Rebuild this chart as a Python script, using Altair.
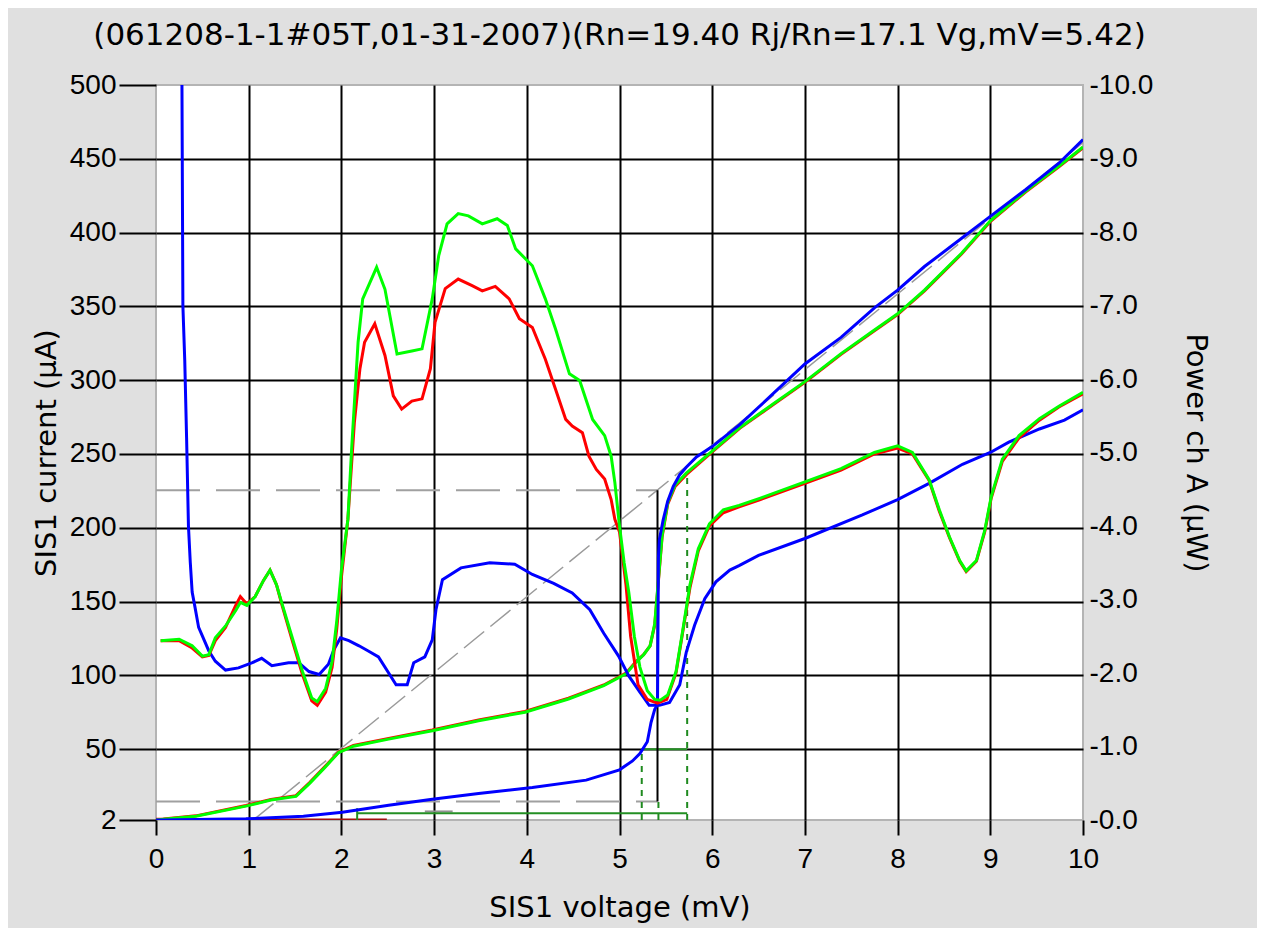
import altair as alt
import pandas as pd

# ---------------- data ----------------
title_text = "(061208-1-1#05T,01-31-2007)(Rn=19.40 Rj/Rn=17.1 Vg,mV=5.42)"
x_ticks = [0, 1, 2, 3, 4, 5, 6, 7, 8, 9, 10]
current_ticks = [2, 50, 100, 150, 200, 250, 300, 350, 400, 450, 500]
power_ticks = [0, -1, -2, -3, -4, -5, -6, -7, -8, -9, -10]

# unpumped IV (µA)
blue_iv_v = [0.0, 0.08, 0.43, 0.97, 1.59, 2.01, 2.51, 2.98, 3.48, 4.06,
             4.64, 5.00, 5.14, 5.22, 5.30, 5.34, 5.38, 5.41, 5.42, 5.43,
             5.47, 5.52, 5.58, 5.65, 5.72, 5.83, 6.00, 6.30, 6.66, 7.00,
             7.39, 7.75, 8.00, 8.29, 8.73, 9.00, 9.38, 9.74, 10.0]
blue_iv_i = [2, 2, 2.3, 2.8, 4.5, 7.3, 12, 16, 20, 24,
             29, 36, 42, 47, 55, 68, 77, 80, 180, 192,
             205, 218, 228, 236, 241, 248, 255, 270, 291, 311,
             329, 349, 361, 377, 398, 411, 429, 447, 463]

# pumped IV, hot (red) and cold (green) (µA)
red_iv_v = [0.0, 0.08, 0.43, 0.97, 1.24, 1.51, 1.66, 1.82, 1.97, 2.13,
            2.51, 2.98, 3.48, 3.98, 4.45, 4.83, 5.07, 5.18, 5.26, 5.33,
            5.38, 5.42, 5.46, 5.52, 5.60, 5.72, 6.00, 6.30, 6.66, 7.00,
            7.39, 7.75, 8.00, 8.29, 8.69, 9.00, 9.38, 9.74, 10.0]
red_iv_i = [2.5, 2.6, 4.8, 11.8, 15.9, 18.5, 27.5, 38, 48, 52.5,
            57.3, 63, 69.8, 75.5, 84.5, 93.5, 101.5, 109.5, 114, 120,
            134, 164, 194, 216, 228, 236, 251.5, 267.5, 283.5, 298.5,
            317.5, 333.5, 344.5, 360.5, 385.5, 407.5, 427.5, 444.5, 457.5]
green_iv_v = [0.0, 0.08, 0.43, 0.97, 1.24, 1.51, 1.66, 1.82, 1.97, 2.13,
              2.51, 2.98, 3.48, 3.98, 4.45, 4.83, 5.07, 5.18, 5.26, 5.33,
              5.38, 5.42, 5.46, 5.52, 5.60, 5.72, 6.00, 6.30, 6.66, 7.00,
              7.39, 7.75, 8.00, 8.29, 8.69, 9.00, 9.38, 9.74, 10.0]
green_iv_i = [2, 2.5, 4.5, 11.4, 15.5, 18, 27, 37.5, 47.7, 52,
              56.8, 62.5, 69.3, 75, 84, 93, 101, 109, 114, 120,
              135, 165, 195, 217, 229, 237, 252, 268, 284, 299,
              318, 334, 345, 361, 386, 408, 428, 445, 458]

# IF power curves (µW)
blue_pw_v = [0.28, 0.29, 0.31, 0.33, 0.35, 0.37, 0.39, 0.42, 0.46, 0.57,
             0.64, 0.75, 0.89, 1.04, 1.14, 1.25, 1.43, 1.54, 1.65, 1.76,
             1.86, 1.92, 1.99, 2.08, 2.19, 2.29, 2.40, 2.51, 2.59, 2.71,
             2.78, 2.90, 2.98, 3.02, 3.09, 3.29, 3.60, 3.87, 4.06, 4.29,
             4.49, 4.68, 4.83, 4.99, 5.10, 5.22, 5.32, 5.43, 5.54, 5.65,
             5.72, 5.81, 5.92, 6.04, 6.19, 6.29, 6.50, 7.00, 7.62, 8.00,
             8.34, 8.70, 9.00, 9.20, 9.53, 9.80, 10.0]
blue_pw_p = [-10.0, -7.0, -6.26, -5.2, -4.0, -3.5, -3.1, -2.9, -2.62, -2.3,
             -2.16, -2.04, -2.07, -2.14, -2.2, -2.1, -2.14, -2.14, -2.02, -1.98,
             -2.12, -2.32, -2.48, -2.44, -2.37, -2.3, -2.22, -2.0, -1.84, -1.84,
             -2.14, -2.22, -2.45, -2.86, -3.27, -3.43, -3.5, -3.48, -3.34, -3.22,
             -3.09, -2.86, -2.54, -2.23, -1.96, -1.74, -1.56, -1.56, -1.6, -1.84,
             -2.28, -2.65, -3.01, -3.24, -3.4, -3.46, -3.6, -3.83, -4.15, -4.36,
             -4.58, -4.84, -5.0, -5.14, -5.32, -5.44, -5.58]

red_pw_v = [0.05, 0.25, 0.39, 0.50, 0.57, 0.64, 0.75, 0.86, 0.91, 0.98,
            1.07, 1.16, 1.23, 1.30, 1.36, 1.47, 1.58, 1.68, 1.74, 1.83,
            1.90, 1.95, 2.00, 2.07, 2.14, 2.20, 2.25, 2.36, 2.47, 2.56,
            2.65, 2.76, 2.87, 2.96, 3.01, 3.12, 3.26, 3.41, 3.52, 3.66,
            3.81, 3.92, 4.06, 4.20, 4.31, 4.42, 4.49, 4.60, 4.67, 4.75,
            4.84, 4.91, 4.95, 5.00, 5.07, 5.12, 5.20, 5.30, 5.41, 5.51,
            5.61, 5.68, 5.76, 5.85, 5.97, 6.12, 6.29, 6.52, 7.00, 7.39,
            7.75, 8.00, 8.16, 8.34, 8.45, 8.56, 8.67, 8.74, 8.85, 8.94,
            9.01, 9.13, 9.31, 9.53, 9.74, 10.0]
red_pw_p = [-2.44, -2.44, -2.34, -2.22, -2.24, -2.44, -2.62, -2.92, -3.04, -2.94,
            -3.04, -3.26, -3.4, -3.2, -2.92, -2.44, -1.98, -1.62, -1.56, -1.74,
            -2.08, -2.6, -3.3, -4.09, -5.41, -6.14, -6.5, -6.75, -6.32, -5.77,
            -5.59, -5.7, -5.73, -6.14, -6.77, -7.23, -7.36, -7.27, -7.2, -7.26,
            -7.09, -6.82, -6.7, -6.27, -5.86, -5.45, -5.36, -5.27, -4.95, -4.77,
            -4.64, -4.36, -4.09, -3.92, -3.2, -2.5, -1.84, -1.64, -1.59, -1.64,
            -2.0, -2.54, -3.16, -3.66, -4.0, -4.18, -4.26, -4.36, -4.58, -4.76,
            -4.98, -5.06, -4.98, -4.62, -4.2, -3.84, -3.52, -3.38, -3.52, -3.92,
            -4.38, -4.88, -5.2, -5.44, -5.62, -5.8]

green_pw_v = [0.05, 0.25, 0.39, 0.50, 0.57, 0.64, 0.75, 0.86, 0.91, 0.98,
              1.07, 1.16, 1.23, 1.30, 1.36, 1.47, 1.58, 1.68, 1.74, 1.83,
              1.90, 1.95, 2.00, 2.07, 2.11, 2.18, 2.23, 2.38, 2.47, 2.60,
              2.76, 2.87, 2.98, 3.05, 3.14, 3.26, 3.37, 3.52, 3.68, 3.79,
              3.88, 4.06, 4.20, 4.31, 4.46, 4.57, 4.71, 4.84, 4.91, 4.95,
              5.00, 5.05, 5.10, 5.16, 5.22, 5.30, 5.38, 5.44, 5.52, 5.61,
              5.68, 5.76, 5.85, 5.97, 6.12, 6.29, 6.52, 7.00, 7.39, 7.75,
              8.00, 8.16, 8.34, 8.45, 8.56, 8.67, 8.74, 8.85, 8.94, 9.01,
              9.13, 9.31, 9.53, 9.74, 10.0]
green_pw_p = [-2.44, -2.46, -2.37, -2.23, -2.25, -2.48, -2.64, -2.85, -2.96, -2.92,
              -3.04, -3.26, -3.4, -3.2, -2.94, -2.48, -2.02, -1.66, -1.61, -1.79,
              -2.16, -2.71, -3.4, -4.09, -5.04, -6.5, -7.09, -7.52, -7.22, -6.34,
              -6.38, -6.41, -7.09, -7.68, -8.11, -8.25, -8.22, -8.11, -8.18, -8.09,
              -7.77, -7.54, -7.09, -6.68, -6.07, -5.98, -5.45, -5.23, -4.95, -4.59,
              -4.0, -3.5, -3.1, -2.5, -2.08, -1.76, -1.64, -1.63, -1.7, -2.02,
              -2.56, -3.2, -3.69, -4.03, -4.22, -4.28, -4.38, -4.6, -4.78, -5.0,
              -5.09, -5.0, -4.63, -4.22, -3.85, -3.53, -3.39, -3.53, -3.94, -4.4,
              -4.91, -5.23, -5.46, -5.63, -5.82]

# guide lines (current axis units)
gray_dash_v = [0.0, 5.41, 0.0, 5.41]
gray_dash_i = [225.5, 225.5, 14.5, 14.5]
gray_dash_seg = [0, 0, 1, 1]
rn_line_v = [1.05, 10.0]
rn_line_i = [2, 461]
gap_line_v = [5.41, 5.41]
gap_line_i = [14.5, 225.5]
dkgreen_v = [2.17, 5.73, 5.24, 5.73, 2.17, 2.17]
dkgreen_i = [6.5, 6.5, 50, 50, 2, 10]
dkgreen_seg = [0, 0, 1, 1, 2, 2]
dkgreen_dot_v = [5.24, 5.24, 5.42, 5.42, 5.73, 5.73]
dkgreen_dot_i = [2, 50, 2, 14.5, 2, 237]
dkgreen_dot_seg = [0, 0, 1, 1, 2, 2]
maroon_v = [0.1, 2.49]
maroon_i = [2.4, 2.4]
gray_short_v = [2.9, 3.2]
gray_short_i = [7.8, 7.8]

# ---------------- styling ----------------
FONT_T = "DejaVu Sans"
FONT_L = "Liberation Sans"

x_enc = alt.X(
    "V:Q",
    scale=alt.Scale(domain=[0, 10], nice=False, zero=False),
    axis=alt.Axis(
        values=x_ticks, format="d", title="SIS1 voltage (mV)",
        grid=True, gridColor="black", gridWidth=2,
        gridOpacity={"condition": {"test": "datum.value <= 0 || datum.value >= 10", "value": 0}, "value": 1},
        domain=False, ticks=True, tickColor="black", tickWidth=2, tickSize=15,
        labelFont=FONT_L, labelFontSize=28, labelColor="black", labelPadding=10, labelFlush=False,
        titleFont=FONT_T, titleFontSize=29, titleFontWeight="normal", titleColor="black", titlePadding=20,
    ),
)

y_cur = alt.Y(
    "I:Q",
    scale=alt.Scale(domain=[2, 500], nice=False, zero=False),
    axis=alt.Axis(
        values=current_ticks, title="SIS1 current (µA)",
        grid=True, gridColor="black", gridWidth=2,
        gridOpacity={"condition": {"test": "datum.value <= 2 || datum.value >= 500", "value": 0}, "value": 1},
        domain=False, ticks=True, tickColor="black", tickWidth=2, tickSize=37,
        labelFont=FONT_L, labelFontSize=28, labelColor="black", labelPadding=3,
        titleFont=FONT_T, titleFontSize=29, titleFontWeight="normal", titleColor="black", titlePadding=8,
    ),
)

y_pow = alt.Y(
    "P:Q",
    scale=alt.Scale(domain=[-10, 0], reverse=True, nice=False, zero=False),
    axis=alt.Axis(
        orient="right", values=power_ticks,
        labelExpr="'-' + format(abs(datum.value), '.1f')",
        title="Power ch A (µW)", grid=False, domain=False, ticks=False, tickSize=0,
        labelFont=FONT_L, labelFontSize=28, labelColor="black", labelPadding=6,
        titleFont=FONT_T, titleFontSize=29, titleFontWeight="normal", titleColor="black", titlePadding=28,
    ),
)


def curve(v, y, field, yenc, color, width=3, dash=None):
    df = pd.DataFrame({"V": v, field: y, "k": list(range(len(v)))})
    kw = dict(color=color, strokeWidth=width, clip=True)
    if dash:
        kw["strokeDash"] = dash
    return alt.Chart(df).mark_line(**kw).encode(x=x_enc, y=yenc, order="k:Q")


def segments(v, y, seg, field, yenc, color, width=2, dash=None):
    df = pd.DataFrame({"V": v, field: y, "s": seg, "k": list(range(len(v)))})
    kw = dict(color=color, strokeWidth=width, clip=True)
    if dash:
        kw["strokeDash"] = dash
    return alt.Chart(df).mark_line(**kw).encode(x=x_enc, y=yenc, detail="s:N", order="k:Q")


left_group = alt.layer(
    segments(gray_dash_v, gray_dash_i, gray_dash_seg, "I", y_cur, "#a0a0a0", 2, [44, 16]),
    curve(rn_line_v, rn_line_i, "I", y_cur, "#9a9a9a", 1.5, [26, 8]),
    curve(gray_short_v, gray_short_i, "I", y_cur, "#909090", 2),
    curve(maroon_v, maroon_i, "I", y_cur, "#a01010", 2),
    segments(dkgreen_v, dkgreen_i, dkgreen_seg, "I", y_cur, "#238f23", 2),
    segments(dkgreen_dot_v, dkgreen_dot_i, dkgreen_dot_seg, "I", y_cur, "#1f8a1f", 2, [6, 6]),
    curve(gap_line_v, gap_line_i, "I", y_cur, "black", 2),
    curve(red_iv_v, red_iv_i, "I", y_cur, "#ff0000", 3),
    curve(green_iv_v, green_iv_i, "I", y_cur, "#00ff00", 3),
    curve(blue_iv_v, blue_iv_i, "I", y_cur, "#0000ff", 3),
)

right_group = alt.layer(
    curve(blue_pw_v, blue_pw_p, "P", y_pow, "#0000ff", 3),
    curve(red_pw_v, red_pw_p, "P", y_pow, "#ff0000", 3),
    curve(green_pw_v, green_pw_p, "P", y_pow, "#00ff00", 3),
)

chart = (
    alt.layer(left_group, right_group)
    .resolve_scale(y="independent")
    .properties(
        width=927,
        height=735,
        autosize=alt.AutoSizeParams(type="none"),
        padding={"left": 148, "top": 77, "right": 174, "bottom": 108},
        background="#e0e0e0",
        title=alt.TitleParams(
            text=title_text, font=FONT_T, fontSize=31, fontWeight="normal",
            color="black", offset=19, anchor="middle",
        ),
    )
    .configure_view(fill="white", stroke="#b4b4b4", strokeWidth=2)
)

chart.save("out.html", embed_options={"renderer": "svg", "actions": False})
